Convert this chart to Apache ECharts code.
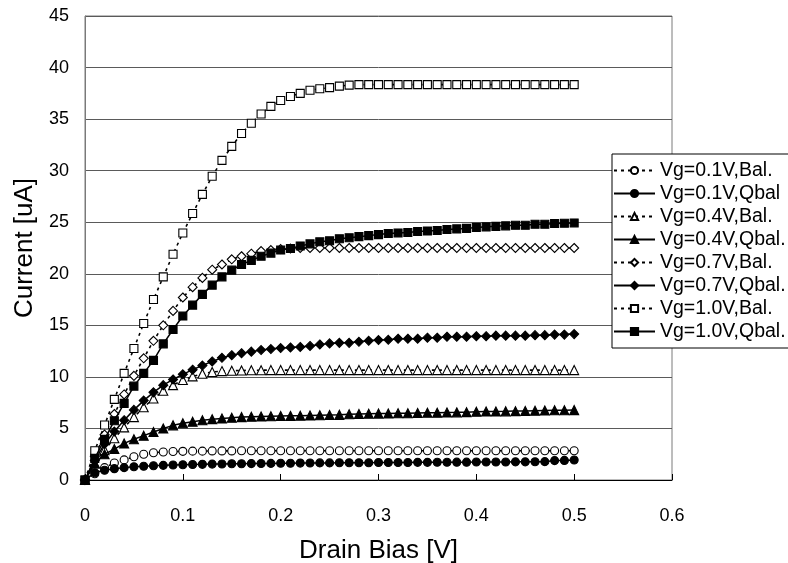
<!DOCTYPE html>
<html>
<head>
<meta charset="utf-8">
<script src="https://cdn.jsdelivr.net/npm/echarts@6/dist/echarts.min.js"></script>
<style>
html,body{margin:0;padding:0;background:#fff;}
#chart{width:788px;height:563px;}
</style>
</head>
<body>
<div id="chart"></div>
<script>
// Drain bias [V]
const drainBias = [0,0.01,0.02,0.03,0.04,0.05,0.06,0.07,0.08,0.09,0.10,0.11,0.12,0.13,0.14,0.15,0.16,0.17,0.18,0.19,0.20,0.21,0.22,0.23,0.24,0.25,0.26,0.27,0.28,0.29,0.30,0.31,0.32,0.33,0.34,0.35,0.36,0.37,0.38,0.39,0.40,0.41,0.42,0.43,0.44,0.45,0.46,0.47,0.48,0.49,0.50];

// Current [uA]
const vg01Bal  = [0,0.6,1.2,1.65,1.95,2.25,2.5,2.65,2.72,2.76,2.78,2.8,2.8,2.82,2.82,2.82,2.83,2.83,2.83,2.83,2.83,2.83,2.83,2.84,2.84,2.84,2.84,2.84,2.84,2.84,2.84,2.84,2.84,2.84,2.84,2.84,2.84,2.84,2.84,2.84,2.84,2.84,2.84,2.84,2.84,2.84,2.84,2.84,2.84,2.84,2.84];
const vg01Qbal = [0,0.7,0.95,1.1,1.2,1.28,1.33,1.38,1.42,1.45,1.48,1.5,1.52,1.54,1.55,1.57,1.58,1.59,1.6,1.61,1.62,1.63,1.64,1.65,1.66,1.66,1.67,1.67,1.68,1.68,1.69,1.69,1.7,1.7,1.71,1.71,1.72,1.72,1.73,1.73,1.74,1.74,1.75,1.75,1.76,1.76,1.77,1.78,1.88,1.9,1.94];
const vg04Bal  = [0,1.6,2.9,4.05,5.1,6.1,7.05,7.9,8.65,9.2,9.7,10.05,10.3,10.48,10.56,10.6,10.62,10.64,10.65,10.66,10.66,10.66,10.66,10.66,10.66,10.66,10.66,10.66,10.66,10.66,10.66,10.66,10.66,10.66,10.66,10.66,10.66,10.66,10.66,10.66,10.66,10.66,10.66,10.66,10.66,10.66,10.66,10.66,10.66,10.66,10.66];
const vg04Qbal = [0,1.6,2.5,3.0,3.55,3.95,4.3,4.65,5.0,5.3,5.5,5.65,5.8,5.9,5.97,6.04,6.1,6.13,6.16,6.18,6.2,6.22,6.24,6.26,6.28,6.3,6.32,6.38,6.4,6.42,6.44,6.45,6.47,6.48,6.5,6.52,6.53,6.55,6.56,6.58,6.62,6.64,6.65,6.66,6.68,6.69,6.72,6.74,6.76,6.77,6.78];
const vg07Bal  = [0,2.3,4.4,6.4,8.3,10.1,11.8,13.5,15.0,16.4,17.7,18.7,19.6,20.4,20.9,21.4,21.7,21.95,22.2,22.3,22.4,22.45,22.5,22.5,22.5,22.5,22.5,22.5,22.5,22.5,22.5,22.5,22.5,22.5,22.5,22.5,22.5,22.5,22.5,22.5,22.5,22.5,22.5,22.5,22.5,22.5,22.5,22.5,22.5,22.5,22.5];
const vg07Qbal = [0,1.9,3.5,4.7,5.8,6.8,7.7,8.5,9.2,9.75,10.25,10.7,11.1,11.5,11.85,12.1,12.3,12.45,12.6,12.7,12.8,12.85,12.9,13.0,13.15,13.25,13.3,13.3,13.4,13.5,13.57,13.6,13.7,13.7,13.7,13.8,13.8,13.9,13.9,13.9,13.95,13.95,14.0,14.0,14.0,14.0,14.05,14.05,14.1,14.1,14.15];
const vg10Bal  = [0,2.84,5.33,7.82,10.34,12.76,15.18,17.5,19.7,21.9,23.96,25.84,27.7,29.46,31.0,32.36,33.6,34.6,35.5,36.24,36.8,37.2,37.5,37.8,37.95,38.05,38.2,38.3,38.34,38.34,38.34,38.34,38.34,38.34,38.34,38.34,38.34,38.34,38.34,38.34,38.34,38.34,38.34,38.34,38.34,38.34,38.34,38.34,38.34,38.34,38.34];
const vg10Qbal = [0,2.1,3.94,5.75,7.43,9.1,10.34,11.6,13.2,14.6,15.9,16.96,18.0,18.9,19.7,20.35,20.9,21.3,21.7,22.0,22.3,22.45,22.7,22.9,23.1,23.2,23.4,23.5,23.6,23.7,23.8,23.9,23.96,24.0,24.1,24.15,24.2,24.3,24.35,24.4,24.5,24.55,24.6,24.65,24.7,24.7,24.8,24.8,24.87,24.9,24.93];

const seriesNames = ['Vg=0.1V,Bal.','Vg=0.1V,Qbal','Vg=0.4V,Bal.','Vg=0.4V,Qbal.','Vg=0.7V,Bal.','Vg=0.7V,Qbal.','Vg=1.0V,Bal.','Vg=1.0V,Qbal.'];
const seriesValues = [vg01Bal, vg01Qbal, vg04Bal, vg04Qbal, vg07Bal, vg07Qbal, vg10Bal, vg10Qbal];
const xTicks = [0,0.1,0.2,0.3,0.4,0.5,0.6];
const yTicks = [0,5,10,15,20,25,30,35,40,45];

const diamond = 'path://M0,-1L1,0L0,1L-1,0Z';
const styles = [
  {symbol:'circle', size:8, fill:'#fff', dashed:true},
  {symbol:'circle', size:8, fill:'#000', dashed:false},
  {symbol:'triangle', size:9, fill:'#fff', dashed:true},
  {symbol:'triangle', size:9, fill:'#000', dashed:false},
  {symbol:diamond, size:9, fill:'#fff', dashed:true},
  {symbol:diamond, size:9, fill:'#000', dashed:false},
  {symbol:'rect', size:8, fill:'#fff', dashed:true},
  {symbol:'rect', size:8, fill:'#000', dashed:false}
];

const font = 'Liberation Sans, Arial, sans-serif';
const series = seriesNames.map((name, i) => {
  const st = styles[i];
  return {
    name: name,
    type: 'line',
    data: drainBias.map((x, j) => [x, seriesValues[i][j]]),
    symbol: st.symbol,
    symbolSize: st.size,
    showSymbol: true,
    smooth: false,
    lineStyle: {color:'#000', width: st.dashed ? 1.6 : 1.5, type: st.dashed ? [3,4] : 'solid'},
    itemStyle: {color: st.fill, borderColor:'#000', borderWidth: 1.1},
    emphasis: {disabled:true},
    z: 2 + i
  };
});

const chart = echarts.init(document.getElementById('chart'), null, {renderer:'canvas'});
chart.setOption({
  animation: false,
  backgroundColor: '#fff',
  textStyle: {fontFamily: font},
  grid: {left:85, right:116, top:16, bottom:83, show:true, borderColor:'#7a7a7a', borderWidth:1, backgroundColor:'transparent', containLabel:false, outerBoundsMode:'none'},
  xAxis: {
    type:'value', min:xTicks[0], max:xTicks[xTicks.length-1], interval:0.1,
    name:'Drain Bias [V]', nameLocation:'middle', nameGap:58,
    nameTextStyle:{fontSize:26, color:'#000', fontFamily:font},
    axisLine:{show:true, lineStyle:{color:'#000', width:1}},
    axisTick:{show:true, inside:true, length:6, lineStyle:{color:'#000'}},
    axisLabel:{color:'#000', fontSize:18, margin:27, fontFamily:font},
    splitLine:{show:false}
  },
  yAxis: {
    type:'value', min:yTicks[0], max:yTicks[yTicks.length-1], interval:5,
    name:'Current [uA]', nameLocation:'middle', nameGap:42,
    nameTextStyle:{fontSize:26, color:'#000', fontFamily:font},
    axisLine:{show:true, lineStyle:{color:'#7a7a7a', width:1}},
    axisTick:{show:false},
    axisLabel:{color:'#000', fontSize:18, margin:16, fontFamily:font},
    splitLine:{show:true, lineStyle:{color:'#5a5a5a', width:1}}
  },
  legend: {
    orient:'vertical', left:612, top:154,
    data: seriesNames,
    backgroundColor:'#fff', borderColor:'#000', borderWidth:1,
    padding:[5,12,5,1],
    itemWidth:41, itemHeight:9, itemGap:0,
    textStyle:{fontSize:19.5, color:'#000', lineHeight:23, fontFamily:font}
  },
  series: series
});
</script>
</body>
</html>
